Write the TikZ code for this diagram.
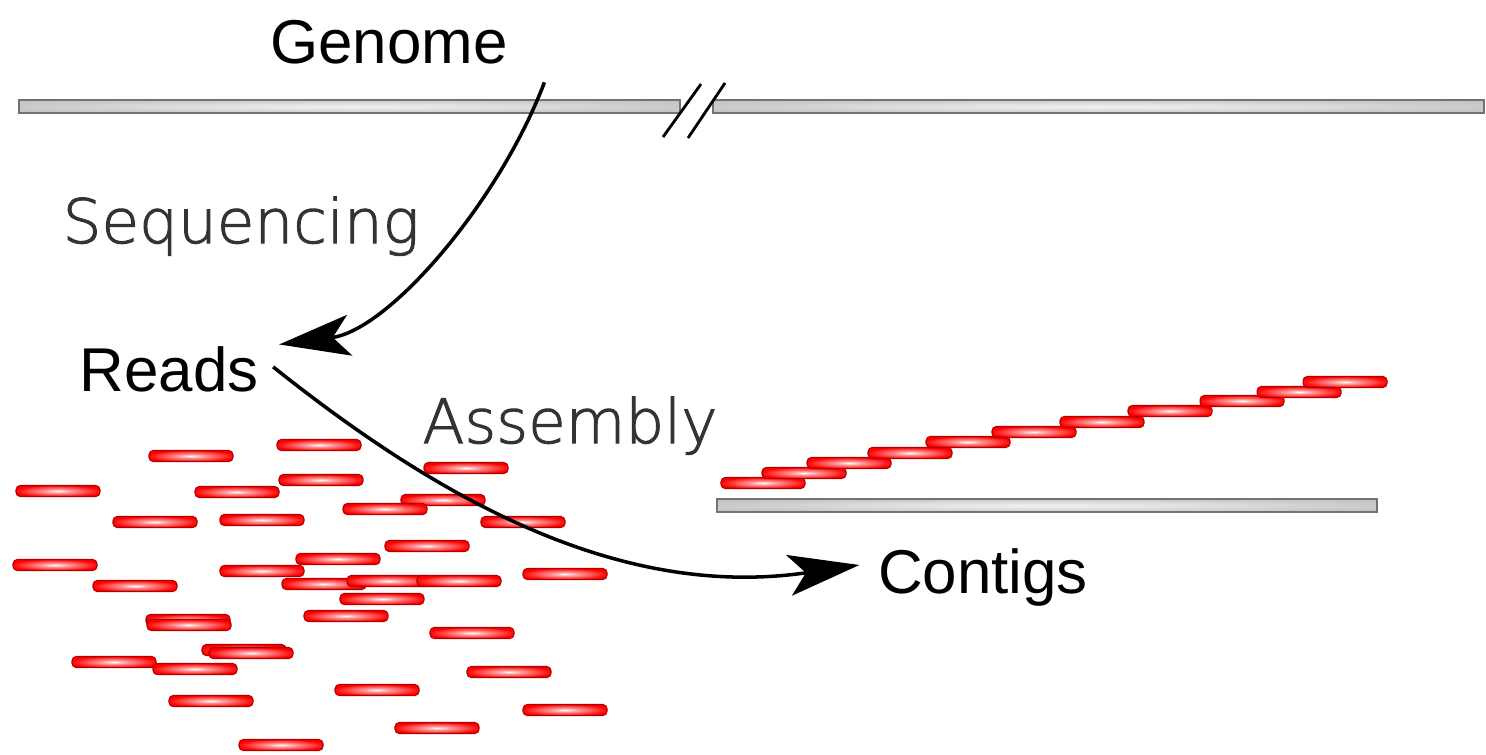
\documentclass[tikz,border=0pt]{standalone}
\usepackage{fontspec}
\setmainfont{Liberation Sans}
\newfontfamily\handfont[FakeBold=1.6]{DejaVu Sans ExtraLight}
\usetikzlibrary{arrows.meta,calc}

% glossy fills for the reads and the grey DNA bars
\pgfdeclareradialshading{readglow}{\pgfpoint{0bp}{0bp}}{color(0bp)=(white); color(8bp)=(red!40); color(26bp)=(red); color(50bp)=(red!95!black)}
\pgfdeclareradialshading{barglow}{\pgfpoint{0bp}{0bp}}{color(0bp)=(gray!10); color(25bp)=(gray!42); color(50bp)=(gray!55)}

\begin{document}
\begin{tikzpicture}[x=0.01cm,y=-0.01cm,
    lbl/.style={font=\fontsize{17.6}{20}\selectfont, inner sep=0pt, anchor=base},
    hand/.style={font=\handfont\fontsize{17.4}{20}\selectfont, text=black!80, inner sep=0pt, anchor=base},
    read/.style={draw=red!70!black, line width=0.3pt, shading=readglow, rounded corners=1.2pt},
    dnabar/.style={draw=black!55, line width=0.4pt, shading=barglow},
    flow/.style={line width=1pt, -{Stealth[length=0.71cm,width=0.41cm,inset=0.17cm]}},
    cut/.style={line width=0.8pt}]
    \useasboundingbox (0,0) rectangle (1486,754);

    % genome, with a break in it
    \path[dnabar] (19,100) rectangle (680,113);
    \path[dnabar] (713,100) rectangle (1484,113);
    \draw[cut] (663,137) -- (701,84);
    \draw[cut] (688,138) -- (725,83);

    % scattered reads
    \foreach \x/\y in {277/445, 149/456, 424/468, 279/480, 16/491, 195/492,
        401/500, 343/509, 113/522, 220/520, 481/522, 385/546, 296/559,
        13/565, 220/571, 523/574, 93/586, 282/584, 347/581, 417/581,
        340/599, 304/616, 146/620, 147/625, 430/633, 202/650, 209/653,
        72/662, 153/669, 467/672, 335/690, 169/701, 523/710, 395/728, 239/745}
        \path[read] (\x,\y-5.5) rectangle ++(84,11);

    % reads tiled over the contig
    \foreach \x/\y in {721/483, 762/473, 807/463, 868/453, 926/442, 992/432,
        1060/422, 1128/411, 1200/401, 1257/392, 1303/382}
        \path[read] (\x,\y-5.5) rectangle ++(84,11);
    \path[dnabar] (717,499) rectangle (1377,512);

    % labels
    \node[lbl] (genome) at (389,63) {Genome};
    \node[lbl] (reads) at (169,391) {Reads};
    \node[lbl] (contigs) at (983,593) {Contigs};
    \node[hand] (seqlabel) at (241,243) {Sequencing};
    \node[hand] (asmlabel) at (570,443) {Assembly};

    % the two steps
    \coordinate (seqstart) at ([shift={(36,18)}]genome.south east);
    \draw[flow] (seqstart) .. controls (500,200) and (390,330) .. ([shift={(20,-1)}]reads.north east);
    \draw[flow] ([shift={(14,-2)}]reads.east) .. controls (440,500) and (620,600) .. ([shift={(-18,-12)}]contigs.west);
\end{tikzpicture}
\end{document}
